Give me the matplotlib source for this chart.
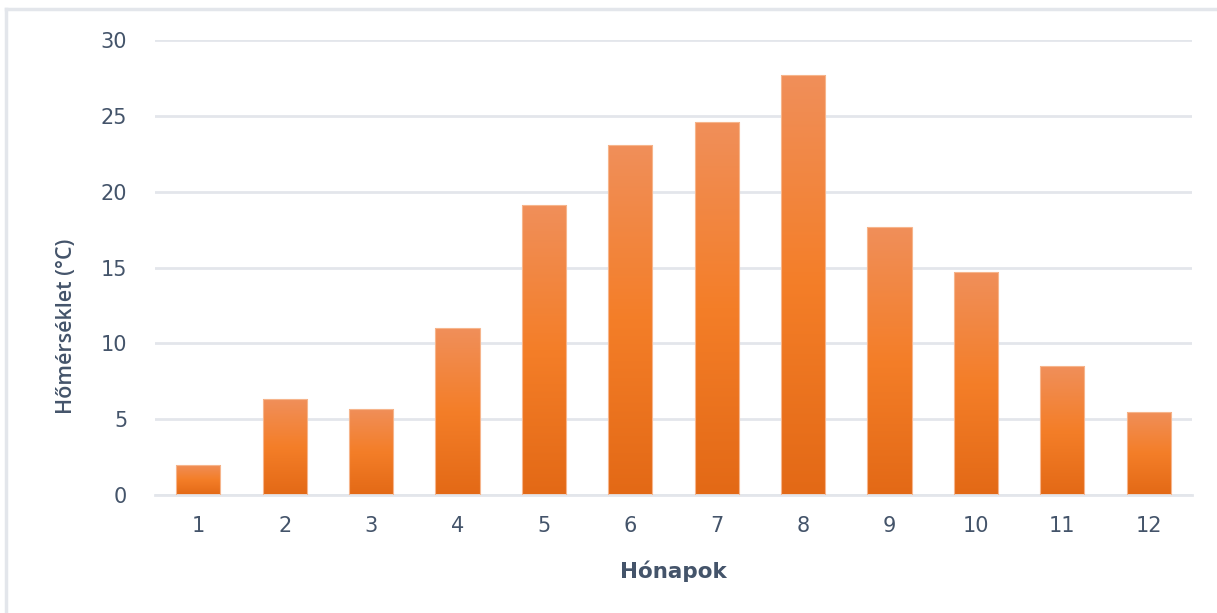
import numpy as np
import matplotlib
matplotlib.use("Agg")
import matplotlib.pyplot as plt
from matplotlib.colors import LinearSegmentedColormap
from matplotlib.patches import Rectangle

# monthly mean temperatures
months = [1, 2, 3, 4, 5, 6, 7, 8, 9, 10, 11, 12]
temps = [2.0, 6.3, 5.7, 11.0, 19.1, 23.1, 24.6, 27.7, 17.7, 14.7, 8.5, 5.5]
month_labels = [str(m) for m in months]

text_col = "#44546A"
grid_col = "#E3E6EB"

fig = plt.figure(figsize=(12.17, 6.13), dpi=100)
ax = fig.add_axes([0.1274, 0.1925, 0.852, 0.7422])

# orange gradient, dark at the bottom, light at the top
grad = LinearSegmentedColormap.from_list(
    "bar_grad", ["#E36916", "#F47E28", "#F08F5A"])

bars = ax.bar(months, temps, width=0.51, color="none",
              edgecolor="#F6B58C", linewidth=0.8, zorder=3)
for b in bars:
    x0, y0 = b.get_x(), b.get_y()
    w, h = b.get_width(), b.get_height()
    img = ax.imshow(np.linspace(0, 1, 256).reshape(-1, 1), cmap=grad,
                    origin="lower", aspect="auto",
                    extent=[x0, x0 + w, y0, y0 + h], zorder=2)
    clip = Rectangle((x0, y0), w, h, transform=ax.transData)
    img.set_clip_path(clip)

ax.set_xlim(0.5, 12.5)
ax.set_ylim(0, 30)
ax.set_yticks([0, 5, 10, 15, 20, 25, 30])
ax.set_xticks(months)
ax.set_xticklabels(month_labels)

ax.yaxis.grid(True, color=grid_col, linewidth=2)
ax.set_axisbelow(True)
for side in ["top", "right", "left"]:
    ax.spines[side].set_visible(False)
ax.spines["bottom"].set_color(grid_col)
ax.spines["bottom"].set_linewidth(2)
ax.tick_params(length=0, colors=text_col, labelsize=15)
ax.tick_params(axis="y", pad=20)
ax.tick_params(axis="x", pad=15)

ax.set_xlabel("Hónapok", color=text_col, fontsize=15.5, fontweight="bold")
ax.xaxis.set_label_coords(0.5, -0.145)
ax.set_ylabel("Hőmérséklet (°C)", color=text_col, fontsize=15.5,
              fontweight=600, family="Open Sans")
ax.yaxis.set_label_coords(-0.075, 0.37)

# light frame around the chart
fig.add_artist(plt.Line2D([0.005, 0.005], [0, 0.986], color=grid_col,
                          linewidth=2.5, transform=fig.transFigure))
fig.add_artist(plt.Line2D([0.005, 1.0], [0.986, 0.986], color=grid_col,
                          linewidth=2.5, transform=fig.transFigure))

fig.savefig("out.png", dpi=100, facecolor="white")
